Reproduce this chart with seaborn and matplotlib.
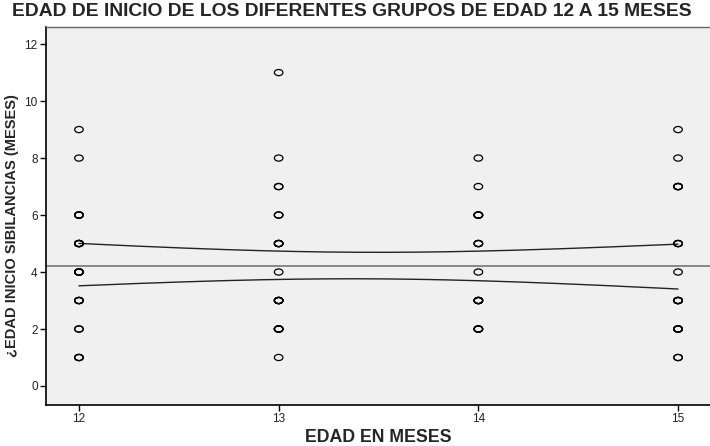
import numpy as np
import pandas as pd
import matplotlib
matplotlib.use("Agg")
import matplotlib.pyplot as plt
import seaborn as sns
from matplotlib.path import Path
from matplotlib.transforms import Affine2D

sns.set_theme(style="white")
plt.rcParams["font.family"] = ["Liberation Sans", "DejaVu Sans"]

# grupos de edad (meses) y edad de inicio de sibilancias, con nº de casos repetidos
ages = [12, 13, 14, 15]
onset_12 = [9, 8, 6, 5, 4, 3, 2, 1]
count_12 = [1, 1, 4, 5, 5, 4, 2, 3]
onset_13 = [11, 8, 7, 6, 5, 4, 3, 2, 1]
count_13 = [1, 1, 2, 2, 4, 1, 5, 5, 1]
onset_14 = [8, 7, 6, 5, 4, 3, 2]
count_14 = [1, 1, 4, 3, 1, 5, 4]
onset_15 = [9, 8, 7, 5, 4, 3, 2, 1]
count_15 = [1, 1, 4, 3, 1, 5, 5, 2]

onsets = [onset_12, onset_13, onset_14, onset_15]
counts = [count_12, count_13, count_14, count_15]

rows = []
for age, ons, cnt in zip(ages, onsets, counts):
    for v in np.repeat(ons, cnt):
        rows.append((age, v))
df = pd.DataFrame(rows, columns=["edad", "inicio"])

# linear fit + 95% CI of the mean
x = df["edad"].to_numpy(float)
y = df["inicio"].to_numpy(float)
n = len(x)
slope, intercept = np.polyfit(x, y, 1)
resid = y - (slope * x + intercept)
s = np.sqrt((resid ** 2).sum() / (n - 2))
sxx = ((x - x.mean()) ** 2).sum()
T95 = 1.99
grid = np.linspace(min(ages), max(ages), 200)
se = s * np.sqrt(1 / n + (grid - x.mean()) ** 2 / sxx)
fit = slope * grid + intercept
ci = pd.DataFrame({"edad": grid, "upper": fit + T95 * se, "lower": fit - T95 * se})

fig = plt.figure(figsize=(7.1, 4.46), dpi=100)
ax = fig.add_axes([46 / 710, 1 - 405 / 446, 1 - 46 / 710, (405 - 27) / 446])
ax.set_facecolor("#f0f0f0")

ax.axhline(df["inicio"].mean(), color="#808080", lw=1.3, zorder=2)
sns.lineplot(data=ci, x="edad", y="upper", color="#222222", lw=1.0, ax=ax, zorder=2)
sns.lineplot(data=ci, x="edad", y="lower", color="#222222", lw=1.0, ax=ax, zorder=2)

ellipse = Path.unit_circle().transformed(Affine2D().scale(1, 0.72))
sns.scatterplot(data=df, x="edad", y="inicio", marker=ellipse, s=38,
                facecolors="none", edgecolors="black", linewidth=0.9, ax=ax, zorder=3)

ax.set_xlim(11.835, 15.16)
ax.set_ylim(-0.667, 12.6)
ax.set_xticks(ages)
ax.set_yticks(range(0, 13, 2))
ax.tick_params(axis="both", which="major", direction="out", length=4, width=1,
               color="black", labelsize=8.5, labelcolor="#222222", pad=2,
               bottom=True, left=True)

for side in ["left", "bottom"]:
    ax.spines[side].set_color("black")
    ax.spines[side].set_linewidth(1.2)
ax.spines["top"].set_color("#666666")
ax.spines["top"].set_linewidth(1.0)
ax.spines["right"].set_visible(False)

ax.set_xlabel("")
ax.set_ylabel("")
fig.text(0.5 * (46 + 710) / 710, 1 - 437 / 446, "EDAD EN MESES", ha="center", va="center",
         fontsize=12.8, fontweight="bold")
fig.text(12 / 710, 1 - 226 / 446, "¿EDAD INICIO SIBILANCIAS (MESES)", rotation=90,
         ha="center", va="center", fontsize=10.5, fontweight="bold",
         family=["Liberation Sans Narrow", "Liberation Sans", "DejaVu Sans"])
fig.text(12 / 710, 1 - 11 / 446, "EDAD DE INICIO DE LOS DIFERENTES GRUPOS DE EDAD 12 A 15 MESES",
         ha="left", va="center", fontsize=13.85, fontweight="bold")

fig.savefig("out.png", dpi=100)
